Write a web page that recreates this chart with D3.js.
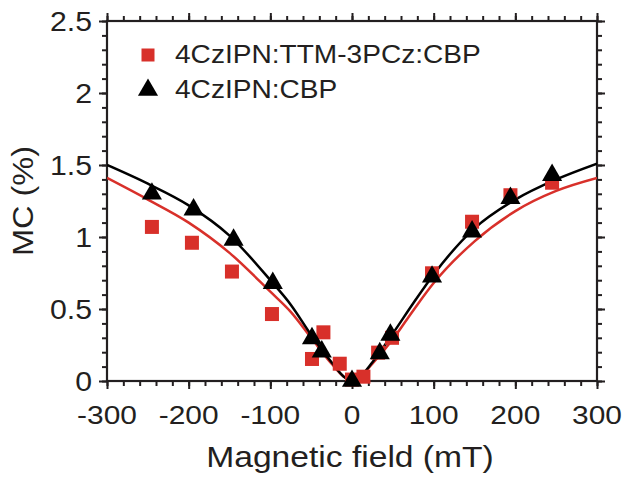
<!DOCTYPE html>
<html>
<head>
<meta charset="utf-8">
<script src="https://cdn.jsdelivr.net/npm/d3@7"></script>
<style>
  html, body { margin: 0; padding: 0; background: #fff; }
  svg { display: block; }
  text { font-family: "Liberation Sans", Arial, Helvetica, sans-serif; fill: #231f20; }
</style>
</head>
<body>
<svg id="chart" width="626" height="479"></svg>
<script>
// ---------- data ----------
const seriesNames = ["4CzIPN:TTM-3PCz:CBP", "4CzIPN:CBP"];

const redX = [-245, -196, -147, -98, -49, -35, -15, 0, 14, 32, 49, 98, 147, 194, 245];
const redY = [1.07, 0.96, 0.76, 0.465, 0.153, 0.338, 0.12, 0.01, 0.03, 0.197, 0.30, 0.748, 1.106, 1.29, 1.377];

const blackX = [-245, -194, -145, -97, -49, -37, 0, 34, 47, 98, 147, 194, 245];
const blackY = [1.30, 1.19, 0.98, 0.68, 0.296, 0.204, 0.0, 0.192, 0.32, 0.724, 1.037, 1.27, 1.43];

const fitX = [-300, -250, -200, -150, -100, -75, -50, -25, -10, 0, 10, 25, 50, 75, 100, 150, 200, 250, 300];
const redFitY = [1.41, 1.26, 1.10, 0.89, 0.62, 0.48, 0.30, 0.12, 0.03, 0.0, 0.03, 0.12, 0.29, 0.49, 0.68, 0.97, 1.18, 1.32, 1.41];
const blackFitY = [1.50, 1.37, 1.22, 1.01, 0.70, 0.53, 0.32, 0.13, 0.03, 0.0, 0.03, 0.13, 0.33, 0.54, 0.74, 1.06, 1.26, 1.40, 1.51];

const xTicks = [-300, -200, -100, 0, 100, 200, 300];
const yTicks = [0, 0.5, 1, 1.5, 2, 2.5];
const yTickLabels = ["0", "0.5", "1", "1.5", "2", "2.5"];
const xTitle = "Magnetic field (mT)";
const yTitle = "MC (%)";

// ---------- layout ----------
const RED = "#d8302a";
const BLACK = "#000000";
const AX = "#231f20";
const L = 107, R = 597, T = 21, B = 381;

const svg = d3.select("#chart");
const x = d3.scaleLinear().domain([-300, 300]).range([L, R]);
const y = d3.scaleLinear().domain([0, 2.5]).range([B, T]);

function stretch(sel, k) {
  sel.each(function () {
    const len = this.getComputedTextLength();
    d3.select(this).attr("textLength", len * k).attr("lengthAdjust", "spacingAndGlyphs");
  });
}

const xMinor = d3.range(-300, 301, 20);
const yMinor = d3.range(0, 2.5001, 0.1);

function drawAxis(axisGen, transform, tickVals, size) {
  const g = svg.append("g").attr("transform", transform)
    .call(axisGen.tickValues(tickVals).tickSize(size).tickFormat(""));
  g.select(".domain").remove();
  g.selectAll("line").attr("stroke", AX).attr("stroke-width", 2);
  return g;
}

drawAxis(d3.axisBottom(x), `translate(0,${B})`, xMinor, 5);
drawAxis(d3.axisBottom(x), `translate(0,${B})`, xTicks, 8);
drawAxis(d3.axisTop(x), `translate(0,${T})`, xMinor, 5);
drawAxis(d3.axisTop(x), `translate(0,${T})`, xTicks, 8);
drawAxis(d3.axisLeft(y), `translate(${L},0)`, yMinor, 5);
drawAxis(d3.axisLeft(y), `translate(${L},0)`, yTicks, 8);
drawAxis(d3.axisRight(y), `translate(${R},0)`, yMinor, 5);
drawAxis(d3.axisRight(y), `translate(${R},0)`, yTicks, 8);

svg.append("rect").attr("x", L).attr("y", T).attr("width", R - L).attr("height", B - T)
  .attr("fill", "none").attr("stroke", AX).attr("stroke-width", 2.2);

const xl = svg.append("g").selectAll("text").data(xTicks).join("text")
  .attr("x", d => x(d)).attr("y", 424).attr("text-anchor", "middle")
  .attr("font-size", 26).text(d => d);
stretch(xl, 1.15);

const yl = svg.append("g").selectAll("text").data(yTicks).join("text")
  .attr("x", 92).attr("y", d => y(d) + 10).attr("text-anchor", "end")
  .attr("font-size", 28).text((d, i) => yTickLabels[i]);
stretch(yl, 1.08);

const xt = svg.append("text").attr("x", 350).attr("y", 467).attr("text-anchor", "middle")
  .attr("font-size", 30).text(xTitle);
stretch(xt, 1.12);
const yt = svg.append("text").attr("transform", "translate(33,201) rotate(-90)")
  .attr("text-anchor", "middle").attr("font-size", 29).text(yTitle);
stretch(yt, 1.12);

svg.append("clipPath").attr("id", "clip").append("rect")
  .attr("x", L).attr("y", T).attr("width", R - L).attr("height", B - T + 2);

const line = d3.line().x(d => x(d[0])).y(d => y(d[1])).curve(d3.curveMonotoneX);
const redFit = fitX.map((v, i) => [v, redFitY[i]]);
const blackFit = fitX.map((v, i) => [v, blackFitY[i]]);

svg.append("path").datum(redFit).attr("d", line).attr("fill", "none")
  .attr("stroke", RED).attr("stroke-width", 2.5).attr("clip-path", "url(#clip)");
svg.append("path").datum(blackFit).attr("d", line).attr("fill", "none")
  .attr("stroke", BLACK).attr("stroke-width", 2.5).attr("clip-path", "url(#clip)");

const sq = 14;
svg.append("g").selectAll("rect").data(redX.map((v, i) => [v, redY[i]])).join("rect")
  .attr("x", d => x(d[0]) - sq / 2).attr("y", d => y(d[1]) - sq / 2)
  .attr("width", sq).attr("height", sq).attr("fill", RED);

const tri = d3.symbol().type(d3.symbolTriangle).size(175);
svg.append("g").selectAll("path").data(blackX.map((v, i) => [v, blackY[i]])).join("path")
  .attr("d", tri).attr("transform", d => `translate(${x(d[0])},${y(d[1])})`)
  .attr("fill", BLACK);

svg.append("rect").attr("x", 148 - 6.5).attr("y", 55 - 6.5).attr("width", 13).attr("height", 13).attr("fill", RED);
svg.append("path").attr("d", tri).attr("transform", "translate(148,90)").attr("fill", BLACK);
const lg = svg.append("g").selectAll("text").data(seriesNames).join("text")
  .attr("x", 175).attr("y", (d, i) => 63 + i * 35).attr("font-size", 26).text(d => d);
stretch(lg, 1.08);
</script>
</body>
</html>
